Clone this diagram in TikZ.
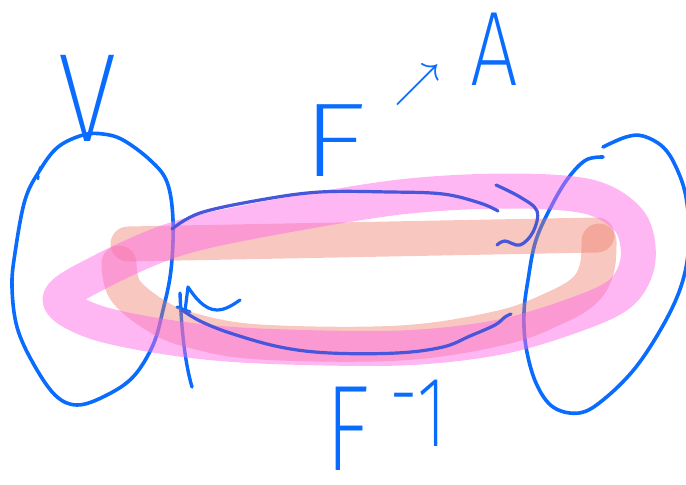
\documentclass[tikz,border=0pt]{standalone}
\usepackage{fontspec}
\newfontfamily\hand{Fira Sans ExtraLight}
\definecolor{inkblue}{HTML}{0A6CFF}
\definecolor{inkdark}{HTML}{4756DA}
\definecolor{salmonc}{HTML}{EE7562}
\definecolor{pinkc}{HTML}{FF66E6}
\begin{document}
\begin{tikzpicture}[x=1pt,y=-1pt,
  ink/.style={draw=inkblue,line width=3.6pt,line cap=round,line join=round},
  inkd/.style={draw=inkdark,line width=3.2pt,line cap=round,line join=round},
  band/.style={line width=35pt,line cap=round,line join=round},
  lbl/.style={inner sep=0pt,text=inkblue,font=\hand}]
\useasboundingbox (0,0) rectangle (686,485);
% left set
\draw[ink] plot[smooth cycle,tension=0.6] coordinates {(83,135) (103,134) (123,140) (150,160) (167,182) (173,220) (171,270) (163,310) (153,345) (133,377) (105,396) (77,405) (55,395) (33,363) (17,327) (12,287) (15,253) (25,200) (40,170) (58,147)};
\draw[ink,line width=2.6pt] (40.5,167) -- (39.5,169.5);
\draw[ink,line width=2.6pt] (38.3,176) -- (38,179);
% right set (open stroke)
\draw[ink] plot[smooth,tension=0.6] coordinates {(603,157) (586,160) (569,177) (553,203) (536,240) (528,280) (524,313) (526,347) (536,383) (553,407) (579,413) (603,400) (636,367) (666,320) (683,280) (689,240) (686,197) (676,167) (663,147) (643,136) (626,137) (603,147)};
% left arrowhead strokes
\draw[ink,line width=3.4pt] (180,293) .. controls (181,320) and (184,360) .. (192,387);
\draw[ink,line width=3.2pt] (177,307) -- (190,312);
\draw[ink,line width=3.2pt] (185,311) -- (188,287) .. controls (194,296) and (204,310) .. (217,310) .. controls (226,310) and (234,304) .. (240,300);
% labels
\node[lbl,font=\hand\fontsize{126}{126}\selectfont,xscale=0.85] (lblV) at (88,98) {V};
\node[lbl,font=\hand\fontsize{105}{105}\selectfont,xscale=1.3] (lblF) at (334,141) {F};
\node[lbl,font=\fontsize{24.88}{24.88}\selectfont,scale=1.85] (lblArrow) at (418,85) {$\nearrow$};
\node[lbl,font=\hand\fontsize{106}{106}\selectfont,xscale=0.8] (lblA) at (494,49) {A};
\node[lbl,font=\hand\fontsize{122}{122}\selectfont,xscale=0.76] (lblFinv) at (348,429) {F};
\node[lbl,font=\hand\fontsize{100}{100}\selectfont,anchor=west,xscale=0.72] (lblInv) at (389,413) {\raisebox{0.2em}{-}1};
% bands
\draw[band,salmonc,opacity=0.4] (128,244) -- (597,235);
\draw[band,salmonc,opacity=0.4] plot[smooth,tension=0.6] coordinates {(599,241) (597,268) (585,290) (555,308) (500,328) (400,343) (260,342) (190,330) (155,315) (125,290) (119,263)};
\draw[band,pinkc,opacity=0.47] plot[smooth cycle,tension=0.55] coordinates {(60,299) (100,272) (173,240) (260,220) (400,197) (510,191) (590,197) (630,222) (638,260) (622,292) (580,313) (500,337) (400,348) (260,346) (173,338) (95,322)};
% arrows between the sets
\coordinate (topStart) at (172,229);
\coordinate (topEnd) at (498,211);
\coordinate (botStart) at (511,314);
\coordinate (botEnd) at (182,310);
\draw[inkd] plot[smooth,tension=0.6] coordinates {(topStart) (200,213) (260,200) (320,192) (390,192) (443,194) (480,203) (topEnd)};
\draw[inkd] plot[smooth,tension=0.6] coordinates {(496,185) (520,197) (537,211) (533,232) (520,245) (505,241) (497,245)};
\draw[inkd] plot[smooth,tension=0.6] coordinates {(botStart) (505,317) (495,325) (470,336) (443,347) (397,353) (330,353) (280,347) (230,333) (200,321) (botEnd)};
\end{tikzpicture}
\end{document}
